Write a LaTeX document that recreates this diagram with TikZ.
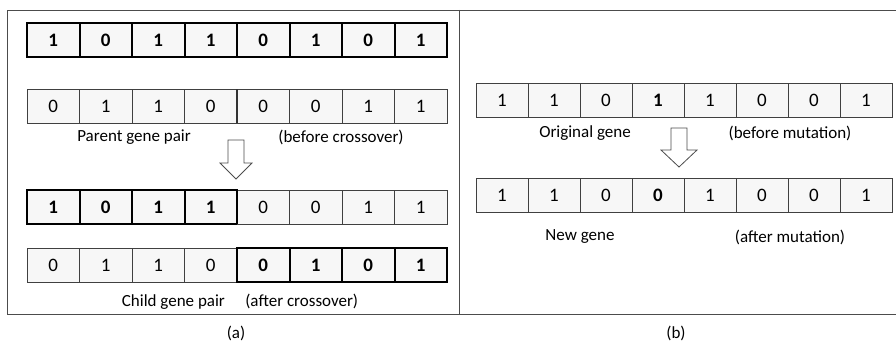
\documentclass[tikz,border=0pt]{standalone}
\usepackage{fontspec}
\setmainfont{Carlito}
\begin{document}
\begin{tikzpicture}[x=1pt,y=-1pt,
  frameline/.style={draw=black!70, line width=0.9pt},
  cellbox/.style={draw=black!75, line width=0.9pt, fill=black!3, inner sep=0pt, outer sep=0pt,
    minimum height=34pt, font=\fontsize{19}{21}\selectfont},
  boldbox/.style={cellbox, draw=black, line width=2pt, font=\fontsize{19}{21}\selectfont\bfseries},
  label/.style={inner sep=0pt, font=\fontsize{17}{20}\selectfont},
  blockarrow/.style={draw=black!70, line width=0.8pt, fill=white, line join=miter}]
\useasboundingbox (0,0) rectangle (896,345);

% outer frame and the divider between the two panels
\draw[frameline] (897,10) -- (7,10) -- (7,314) -- (897,314);
\draw[frameline] (459,10) -- (459,314);

% ---------- (a) crossover ----------
% row 1: first parent, all bold
\foreach \d [count=\i] in {1,0,1,1,0,1,0,1}
  \node[boldbox, minimum width=52.5pt] (pa\i) at ({27+(\i-0.5)*52.5},40) {\d};
% row 2: second parent
\foreach \d [count=\i] in {0,1,1,0,0,0,1,1}
  \node[cellbox, minimum width=52.5pt] (pb\i) at ({27+(\i-0.5)*52.5},106) {\d};
\draw[black!80, line width=1.6pt] (pb4.north east) -- (pb4.south east);

\node[label] (parentlbl) at (134,137) {Parent gene pair};
\node[label] (beforecross) at (341,137) {(before crossover)};

% hollow arrow between parents and children
\draw[blockarrow] (228,140) -- (244,140) -- (244,163) -- (252,163) -- (236,179)
  -- (220,163) -- (228,163) -- cycle;

% row 3: first child (bold head, plain tail)
\foreach \d [count=\i] in {1,0,1,1}
  \node[boldbox, minimum width=52.5pt] (ca\i) at ({27+(\i-0.5)*52.5},207) {\d};
\foreach \d [count=\i from 5] in {0,0,1,1}
  \node[cellbox, minimum width=52.5pt] (ca\i) at ({27+(\i-0.5)*52.5},207) {\d};
\draw[black, line width=2pt] (ca4.north east) -- (ca4.south east);

% row 4: second child (plain head, bold tail)
\foreach \d [count=\i] in {0,1,1,0}
  \node[cellbox, minimum width=52.5pt] (cb\i) at ({27+(\i-0.5)*52.5},265) {\d};
\foreach \d [count=\i from 5] in {0,1,0,1}
  \node[boldbox, minimum width=52.5pt] (cb\i) at ({27+(\i-0.5)*52.5},265) {\d};

\node[label] (childlbl) at (240,302) {Child gene pair\hspace{1.2em}(after crossover)};
\node[label] (capa) at (236,333) {(a)};

% ---------- (b) mutation ----------
\foreach \d [count=\i] in {1,1,0,\textbf{1},1,0,0,1}
  \node[cellbox, minimum width=52pt] (ga\i) at ({476+(\i-0.5)*52},100) {\d};
\node[label] (origlbl) at (585,133) {Original gene};
\node[label] (beforemut) at (790,133) {(before mutation)};

\draw[blockarrow] (671,128) -- (687,128) -- (687,150) -- (697,150) -- (679,167)
  -- (661,150) -- (671,150) -- cycle;

\foreach \d [count=\i] in {1,1,0,\textbf{0},1,0,0,1}
  \node[cellbox, minimum width=52pt] (gb\i) at ({476+(\i-0.5)*52},195.5) {\d};
\node[label] (newlbl) at (580,237) {New gene};
\node[label] (aftermut) at (790,237) {(after mutation)};
\node[label] (capb) at (676,333) {(b)};
\end{tikzpicture}
\end{document}
